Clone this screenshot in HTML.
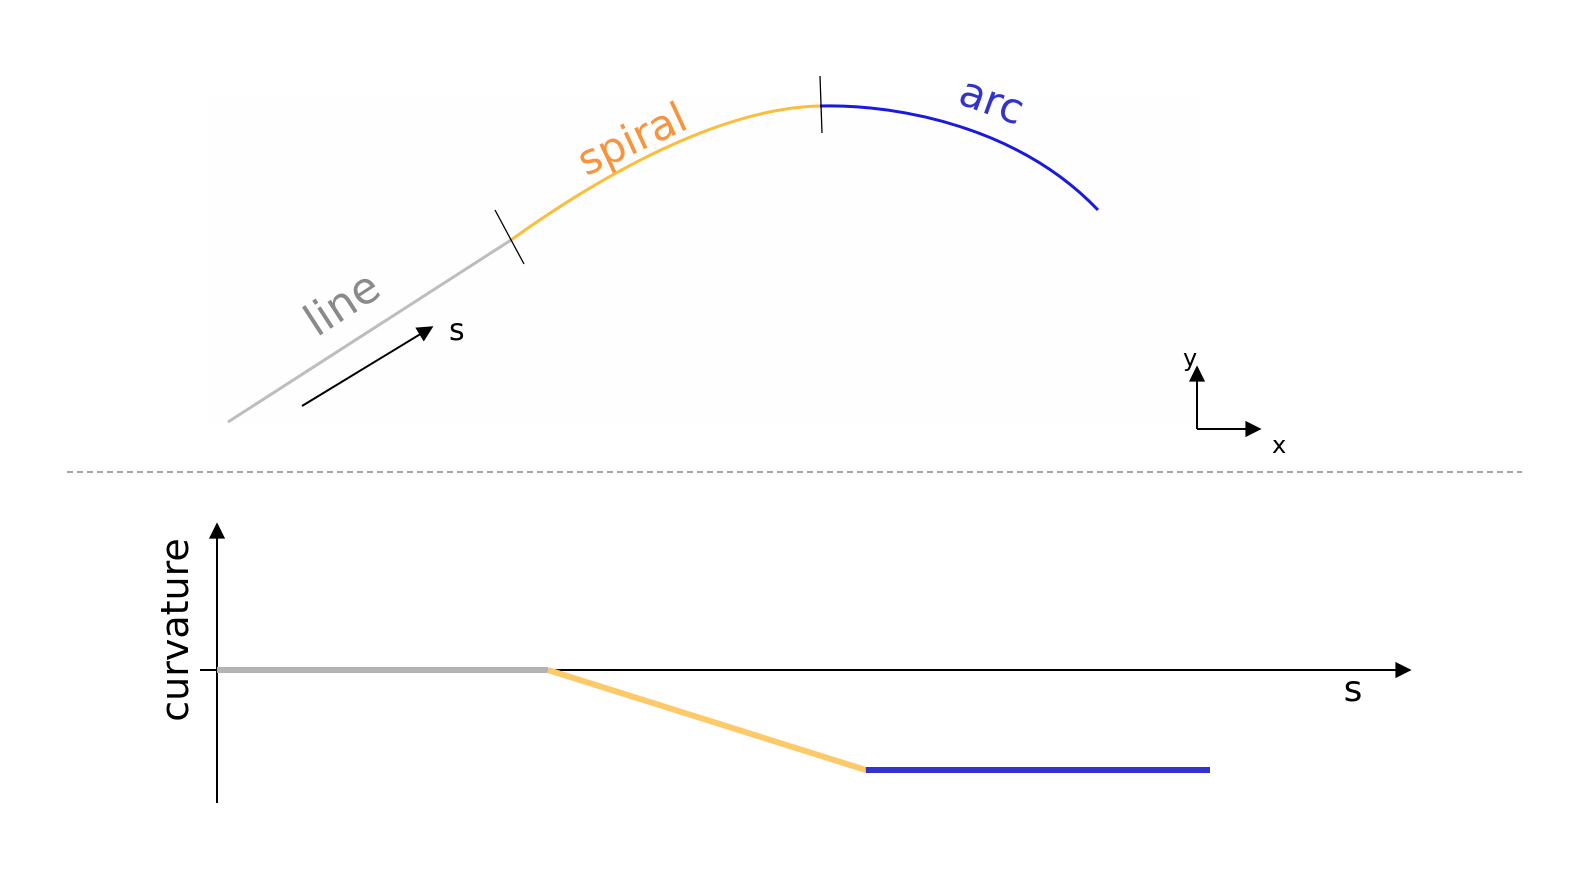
<!DOCTYPE html>
<html><head><meta charset="utf-8"><style>
html,body{margin:0;padding:0;background:#fff;width:1589px;height:886px;overflow:hidden}
svg{display:block}
text{font-family:"DejaVu Sans","Liberation Sans",sans-serif}
</style></head><body>
<svg id="fig" width="1589" height="886" viewBox="0 0 1589 886">
<defs>
<marker id="ah" viewBox="0 0 10 10" refX="9" refY="5" markerWidth="9" markerHeight="9" markerUnits="userSpaceOnUse" orient="auto" style="overflow:visible">
<path d="M0,0 L10,5 L0,10 z" fill="#000" transform="scale(1.8) translate(-4,-2.2)"/></marker>
</defs>
<rect x="208" y="95" width="992" height="330" fill="#fefefe"/>
<g>
<line x1="228" y1="422" x2="511" y2="240" stroke="#bdbdbd" stroke-width="3"/>
<path d="M511,240 C600,176 720,108 820,106" fill="none" stroke="#fbbd3a" stroke-width="3"/>
<path d="M820,106 C900,104 1020,128 1098,210" fill="none" stroke="#1a1ade" stroke-width="3"/>
<line x1="495" y1="210" x2="524" y2="264" stroke="#000" stroke-width="1.3"/>
<line x1="820" y1="76" x2="822" y2="133" stroke="#000" stroke-width="1.3"/>
<text x="0" y="0" font-size="44" fill="#8a8a8a" text-anchor="middle" transform="translate(350,316) rotate(-33)">line</text>
<text x="0" y="0" font-size="42" fill="#f7943c" text-anchor="middle" transform="translate(638,152) rotate(-25)">spiral</text>
<text x="0" y="0" font-size="42" fill="#3333cc" text-anchor="middle" transform="translate(987,114) rotate(20)">arc</text>
<line x1="302" y1="406" x2="432" y2="327" stroke="#000" stroke-width="2" marker-end="url(#ah)"/>
<text x="449" y="340" font-size="30" fill="#000">s</text>
</g>
<g>
<line x1="1197" y1="429" x2="1197" y2="367" stroke="#000" stroke-width="2" marker-end="url(#ah)"/>
<line x1="1197" y1="429" x2="1260" y2="429" stroke="#000" stroke-width="2" marker-end="url(#ah)"/>
<text x="1183" y="366" font-size="24">y</text>
<text x="1272" y="453" font-size="24">x</text>
</g>
<line x1="67" y1="472" x2="1522" y2="472" stroke="#8a8a8a" stroke-width="1.5" stroke-dasharray="6,4"/>
<g id="plot">
<line x1="217" y1="803" x2="217" y2="524" stroke="#000" stroke-width="2" marker-end="url(#ah)"/>
<line x1="200" y1="670" x2="1410" y2="670" stroke="#000" stroke-width="2" marker-end="url(#ah)"/>
<text x="1353" y="701" font-size="36" text-anchor="middle">s</text>
<text x="0" y="0" font-size="38" text-anchor="middle" transform="translate(188,630) rotate(-90)">curvature</text>
</g>
</svg>
<script>
const segmentNames = ["line", "spiral", "arc"];
const sBreaks = [0, 1.0, 1.96, 3.0];
const curvatureValues = [0, 0, -1, -1];
const segmentColors = ["#b3b3b3", "#fdca6a", "#3333cc"];
const x0 = 217, xUnit = 331, y0 = 670, yUnit = 100;
function xs(s){return x0 + s * xUnit;}
function ys(k){return y0 - k * yUnit;}
const plot = document.getElementById('plot');
for (let i = 0; i < segmentNames.length; i++) {
  const ln = document.createElementNS('http://www.w3.org/2000/svg', 'line');
  ln.setAttribute('x1', xs(sBreaks[i]));
  ln.setAttribute('y1', ys(curvatureValues[i]));
  ln.setAttribute('x2', xs(sBreaks[i + 1]));
  ln.setAttribute('y2', ys(curvatureValues[i + 1]));
  ln.setAttribute('stroke', segmentColors[i]);
  ln.setAttribute('stroke-width', '6');
  
  
  plot.appendChild(ln);
}
</script>
</body></html>
